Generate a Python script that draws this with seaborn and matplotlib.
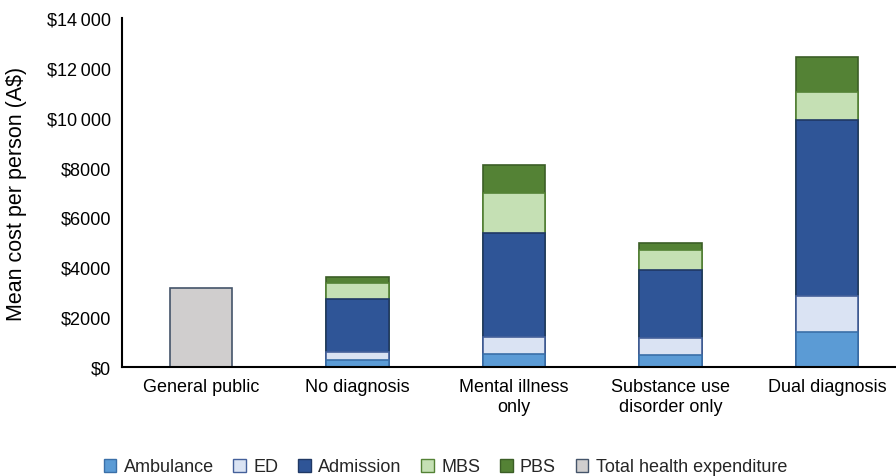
import numpy as np
import pandas as pd
import matplotlib
matplotlib.use("Agg")
import matplotlib.pyplot as plt
import seaborn as sns
from matplotlib.patches import Patch
from matplotlib.ticker import FuncFormatter

categories = ["General public", "No diagnosis", "Mental illness\nonly",
              "Substance use\ndisorder only", "Dual diagnosis"]
ambulance = [np.nan, 280, 510, 490, 1390]
ed = [np.nan, 330, 680, 660, 1460]
admission = [np.nan, 2130, 4200, 2760, 7070]
mbs = [np.nan, 620, 1580, 780, 1120]
pbs = [np.nan, 270, 1140, 270, 1390]
total = [3150, np.nan, np.nan, np.nan, np.nan]

series_names = ["Ambulance", "ED", "Admission", "MBS", "PBS", "Total health expenditure"]
fills = ["#5B9BD5", "#DAE3F3", "#2F5597", "#C5E0B4", "#548235", "#D0CECE"]
edges = ["#3A6FA8", "#44609A", "#203864", "#548235", "#3B5E26", "#44546A"]

sns.set_theme(style="white")
plt.rcParams['font.family'] = ['Liberation Sans', 'DejaVu Sans']

fig = plt.figure(figsize=(8.96, 4.77), dpi=100)
ax = fig.add_axes([122/896, 1-368/477, 1-122/896, (368-19)/477])

stack = np.array([ambulance, ed, admission, mbs, pbs], dtype=float)
cum = np.cumsum(stack, axis=0)

# draw from the top layer down so lower layers overlay upper ones
layers = [(cum[i], i) for i in range(5)] + [(np.array(total, dtype=float), 5)]
for vals, i in reversed(layers):
    df = pd.DataFrame({"cat": categories, "val": vals}).dropna()
    sns.barplot(data=df, x="cat", y="val", order=categories, ax=ax,
                color=fills[i], edgecolor=edges[i], linewidth=1.2,
                width=0.40, saturation=1, errorbar=None)

ax.set_xlim(-0.505, 4.44)
ax.set_ylim(0, 14000)
ax.set_yticks(np.arange(0, 14001, 2000))

def fmt(v, pos):
    v = int(v)
    if v >= 10000:
        return "$" + f"{v // 1000}\u2009{v % 1000:03d}"
    return f"${v}"
ax.yaxis.set_major_formatter(FuncFormatter(fmt))

for s in ["top", "right"]:
    ax.spines[s].set_visible(False)
for s in ["left", "bottom"]:
    ax.spines[s].set_color("black")
    ax.spines[s].set_linewidth(1.5)

ax.tick_params(axis="both", length=0, labelsize=13, colors="black")
ax.tick_params(axis="y", pad=8)
ax.tick_params(axis="x", pad=8)
ax.set_xlabel("")
ax.set_ylabel("Mean cost per person (A$)", fontsize=15.5, color="black", labelpad=14)

handles = [Patch(facecolor=fills[i], edgecolor=edges[i], linewidth=1.0) for i in range(6)]
fig.legend(handles, series_names, loc="center", bbox_to_anchor=(0.497, 1-468/477),
           ncol=6, frameon=False, fontsize=13, handlelength=0.7, handleheight=0.7,
           handletextpad=0.4, columnspacing=1.1)

fig.savefig("out.png", dpi=100)
